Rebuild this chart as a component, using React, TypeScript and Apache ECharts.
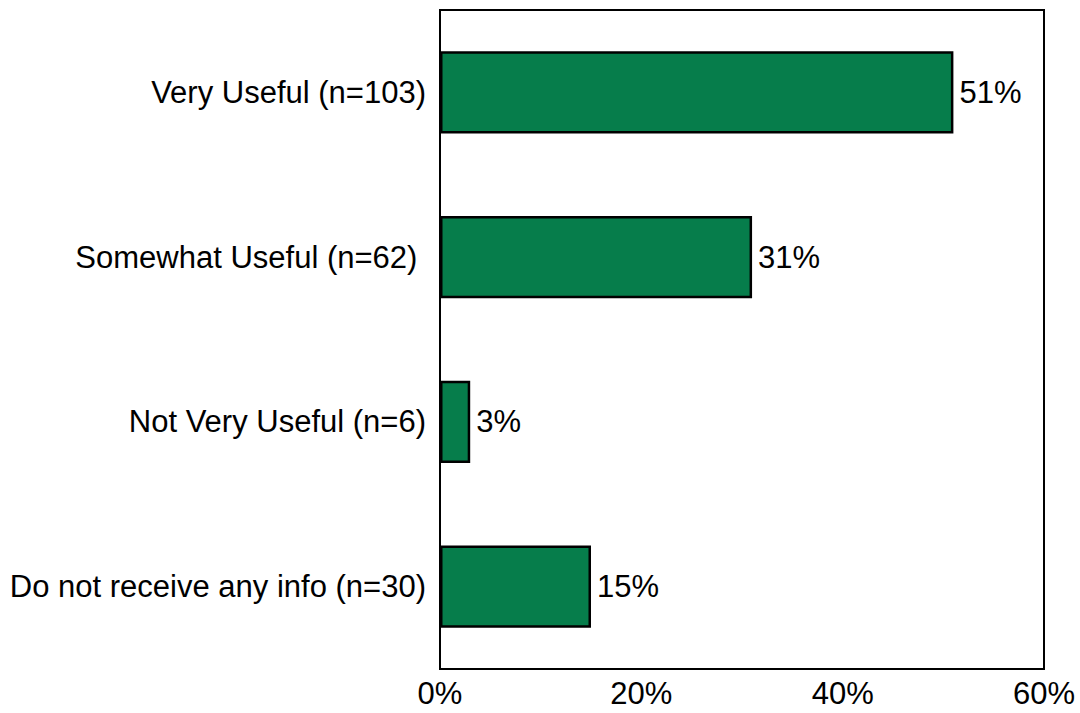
import React, { useEffect, useRef } from "react";
import * as echarts from "echarts";

const categories = [
  "Very Useful (n=103)",
  "Somewhat Useful (n=62)\u00a0",
  "Not Very Useful (n=6)",
  "Do not receive any info (n=30)",
];
const values = [51, 31, 3, 15];
const xTicks = { min: 0, max: 60, interval: 20 };

const FONT = "Liberation Sans, Arial, sans-serif";

export default function App() {
  const ref = useRef<HTMLDivElement>(null);
  useEffect(() => {
    const chart = echarts.init(ref.current!, null, { renderer: "svg" });
    chart.setOption({
      animation: false,
      textStyle: { fontFamily: FONT },
      grid: {
        left: 440,
        top: 10,
        width: 604,
        height: 659,
        show: true,
        borderColor: "#000",
        borderWidth: 2,
        backgroundColor: "transparent",
      },
      xAxis: {
        type: "value",
        min: xTicks.min,
        max: xTicks.max,
        interval: xTicks.interval,
        axisLine: { show: false },
        axisTick: { show: false },
        splitLine: { show: false },
        axisLabel: {
          formatter: "{value}%",
          fontSize: 31,
          color: "#000",
          margin: 9,
          fontFamily: FONT,
        },
      },
      yAxis: {
        type: "category",
        inverse: true,
        data: categories,
        axisLine: { show: false },
        axisTick: { show: false },
        axisLabel: {
          fontSize: 31,
          color: "#000",
          margin: 14,
          fontFamily: FONT,
        },
      },
      series: [
        {
          type: "bar",
          data: values,
          barWidth: "50%",
          itemStyle: { color: "#067d4b", borderColor: "#000", borderWidth: 2.5 },
          label: {
            show: true,
            position: "right",
            distance: 6,
            formatter: "{c}%",
            fontSize: 31,
            color: "#000",
            fontFamily: FONT,
          },
        },
      ],
    });
    return () => chart.dispose();
  }, []);
  return (
    <div
      ref={ref}
      style={{ position: "absolute", left: 0, top: 0, width: 1080, height: 713 }}
    />
  );
}
